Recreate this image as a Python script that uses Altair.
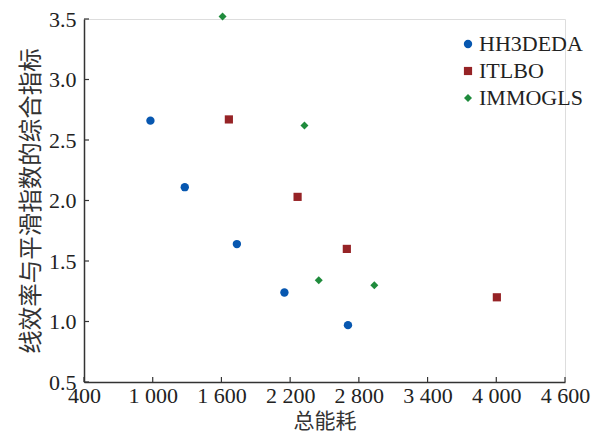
import altair as alt
import pandas as pd

series = ["HH3DEDA", "ITLBO", "IMMOGLS"]
hh_x = [980, 1280, 1735, 2150, 2705]
hh_y = [2.66, 2.11, 1.64, 1.24, 0.97]
it_x = [1665, 2265, 2695, 4005]
it_y = [2.67, 2.03, 1.60, 1.20]
im_x = [1610, 2325, 2450, 2935]
im_y = [3.52, 2.62, 1.34, 1.30]
x_ticks = [400, 1000, 1600, 2200, 2800, 3400, 4000, 4600]
y_ticks = [0.5, 1.0, 1.5, 2.0, 2.5, 3.0, 3.5]
colors = ["#0757b0", "#962326", "#1f8b3c"]
shapes = ["circle", "square", "diamond"]

rows = []
for name, xs, ys in zip(series, [hh_x, it_x, im_x], [hh_y, it_y, im_y]):
    for a, b in zip(xs, ys):
        rows.append({"s": name, "x": a, "y": b})
df = pd.DataFrame(rows)

W, H = 481, 363
xscale = alt.Scale(domain=[400, 4600], nice=False, zero=False)
yscale = alt.Scale(domain=[0.5, 3.5], nice=False, zero=False)

xaxis = alt.Axis(values=x_ticks, title="总能耗", grid=False, tickSize=0,
                 labelExpr="replace(format(datum.value, ','), ',', ' ')",
                 labelFont="Liberation Serif", labelFontSize=22, labelColor="#222",
                 labelPadding=3, titleFont="Noto Sans CJK SC", titleFontSize=21,
                 titleFontWeight="normal", titleColor="#333", titlePadding=4,
                 domainColor="#333", domainWidth=1.5, labelFlush=False, labelOverlap=False)
yaxis = alt.Axis(values=y_ticks, title="线效率与平滑指数的综合指标", grid=False, tickSize=0,
                 labelExpr="format(datum.value, '.1f')",
                 labelFont="Liberation Serif", labelFontSize=22, labelColor="#222",
                 labelPadding=8, titleFont="Noto Sans CJK SC", titleFontSize=23.5,
                 titleFontWeight="normal", titleColor="#333", titlePadding=5,
                 domainColor="#333", domainWidth=1.5, labelFlush=False, labelOverlap=False)

points = alt.Chart(df).mark_point(filled=True, opacity=1, strokeWidth=0).encode(
    x=alt.X("x:Q", scale=xscale, axis=xaxis),
    y=alt.Y("y:Q", scale=yscale, axis=yaxis),
    color=alt.Color("s:N", scale=alt.Scale(domain=series, range=colors),
                    legend=alt.Legend(title=None, orient="none", legendX=373, legendY=14,
                                      labelFont="Liberation Serif", labelFontSize=22,
                                      labelColor="#222", symbolSize=64, rowPadding=5,
                                      labelOffset=0, symbolStrokeWidth=0)),
    shape=alt.Shape("s:N", scale=alt.Scale(domain=series, range=shapes), legend=None),
    size=alt.Size("s:N", scale=alt.Scale(domain=series, range=[70, 64, 130]), legend=None),
)

xt = alt.Chart(pd.DataFrame({"v": x_ticks})).mark_rule(color="#333", strokeWidth=1.2).encode(
    x=alt.X("v:Q", scale=xscale), y=alt.value(H), y2=alt.value(H - 5))
yt = alt.Chart(pd.DataFrame({"v": y_ticks})).mark_rule(color="#333", strokeWidth=1.2).encode(
    y=alt.Y("v:Q", scale=yscale), x=alt.value(0), x2=alt.value(5))

chart = alt.layer(xt, yt, points).properties(
    width=W, height=H,
    autosize=alt.AutoSizeParams(type="none"),
    padding={"left": 76, "top": 11, "right": 29, "bottom": 54},
).configure_view(stroke=None).configure(background="white")

chart.save("out.html", embed_options={"renderer": "svg", "actions": False})
